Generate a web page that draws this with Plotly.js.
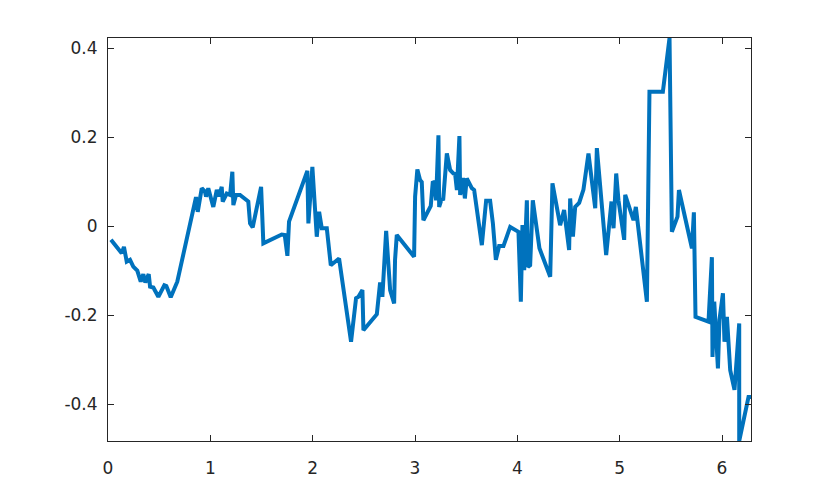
<!DOCTYPE html>
<html>
<head>
<meta charset="utf-8">
<script src="https://cdn.plot.ly/plotly-3.0.1.min.js"></script>
<style>html,body{margin:0;padding:0;background:#fff;}#chart{width:830px;height:497px;}</style>
</head>
<body>
<div id="chart"></div>
<script>
const xValues = [0.029,0.134,0.156,0.183,0.215,0.247,0.286,0.320,0.345,0.365,0.398,0.411,0.443,0.492,0.550,0.570,0.613,0.677,
0.860,0.877,0.916,0.948,0.958,0.980,1.029,1.063,1.085,1.111,1.121,1.160,1.193,1.215,1.225,1.251,1.290,1.339,1.371,1.388,1.414,1.496,1.518,1.698,1.727,1.753,1.769,
1.948,1.958,1.997,2.040,2.063,2.089,2.138,2.177,2.258,2.375,2.424,2.447,2.486,2.496,2.627,2.659,2.681,2.718,2.757,2.796,2.805,2.822,
2.991,3.001,3.023,3.050,3.066,3.082,3.154,3.174,3.189,3.206,3.229,3.236,3.262,3.275,3.311,3.343,3.375,3.392,3.409,3.434,3.441,3.470,3.487,3.506,3.555,3.578,
3.653,3.695,3.734,3.761,3.790,3.822,3.864,3.930,4.011,4.034,4.050,4.067,4.093,4.103,4.125,4.151,4.216,4.321,4.343,4.418,4.457,4.506,4.516,4.543,4.565,4.604,4.646,4.695,4.761,4.777,
4.868,4.920,4.940,4.966,4.988,5.044,5.054,5.135,5.158,5.266,5.291,5.422,5.487,5.510,5.565,5.579,5.706,5.725,5.741,5.868,5.901,5.907,5.924,5.943,5.960,5.975,6.009,6.024,6.048,6.080,6.122,6.168,6.168,6.259,6.283];
const yValues = [-0.031,-0.061,-0.047,-0.080,-0.076,-0.091,-0.100,-0.125,-0.108,-0.127,-0.108,-0.136,-0.138,-0.159,-0.133,-0.135,-0.160,-0.125,
0.065,0.032,0.085,0.077,0.066,0.085,0.043,0.081,0.067,0.088,0.055,0.073,0.070,0.122,0.047,0.070,0.070,0.062,0.055,0.006,-0.003,0.088,-0.039,-0.019,-0.020,-0.067,0.010,
0.124,0.006,0.133,-0.024,0.032,-0.005,-0.005,-0.088,-0.073,-0.260,-0.162,-0.159,-0.144,-0.234,-0.198,-0.127,-0.159,-0.011,-0.144,-0.174,-0.076,-0.020,
-0.069,0.066,0.127,0.103,0.099,0.013,0.045,0.100,0.097,0.058,0.204,0.043,0.062,0.058,0.163,0.126,0.118,0.117,0.081,0.202,0.070,0.108,0.062,0.107,0.085,0.081,
-0.043,0.057,0.057,0.006,-0.076,-0.045,-0.045,-0.002,-0.013,-0.170,0.002,-0.099,0.058,-0.092,-0.088,0.058,-0.050,-0.114,0.096,0.002,0.036,-0.054,0.062,-0.024,0.043,0.052,0.082,0.163,0.040,0.175,
-0.065,0.055,-0.005,0.118,0.058,-0.031,0.070,0.013,0.043,-0.170,0.302,0.302,0.4225,-0.013,0.021,0.081,-0.050,0.031,-0.204,-0.215,-0.070,-0.294,-0.170,-0.267,-0.320,-0.211,-0.151,-0.260,-0.204,-0.324,-0.368,-0.219,-0.483,-0.384,-0.384];
const xTicks = [0,1,2,3,4,5,6];
const xTickLabels = ['0','1','2','3','4','5','6'];
const yTicks = [-0.4,-0.2,0,0.2,0.4];
const yTickLabels = ['-0.4','-0.2','0','0.2','0.4'];

const axisCommon = {
  showgrid:false, zeroline:false, showline:true, linecolor:'#262626', linewidth:1,
  mirror:'ticks', ticks:'inside', ticklen:6, tickcolor:'#262626', tickwidth:1,
  tickfont:{family:'DejaVu Sans, sans-serif', size:17, color:'#262626'}
};
Plotly.newPlot('chart', [{
  x:xValues, y:yValues, type:'scatter', mode:'lines',
  line:{color:'#0072BD', width:4}, hoverinfo:'none'
}], {
  width:830, height:497,
  margin:{l:108, r:79, t:38, b:56},
  paper_bgcolor:'#fff', plot_bgcolor:'#fff', showlegend:false,
  xaxis:Object.assign({}, axisCommon, {range:[0, 2*Math.PI], tickvals:xTicks, ticktext:xTickLabels, ticklabelstandoff:12}),
  yaxis:Object.assign({}, axisCommon, {range:[-0.483, 0.4225], tickvals:yTicks, ticktext:yTickLabels, ticklabelstandoff:6})
}, {staticPlot:true, displayModeBar:false});
</script>
</body>
</html>
